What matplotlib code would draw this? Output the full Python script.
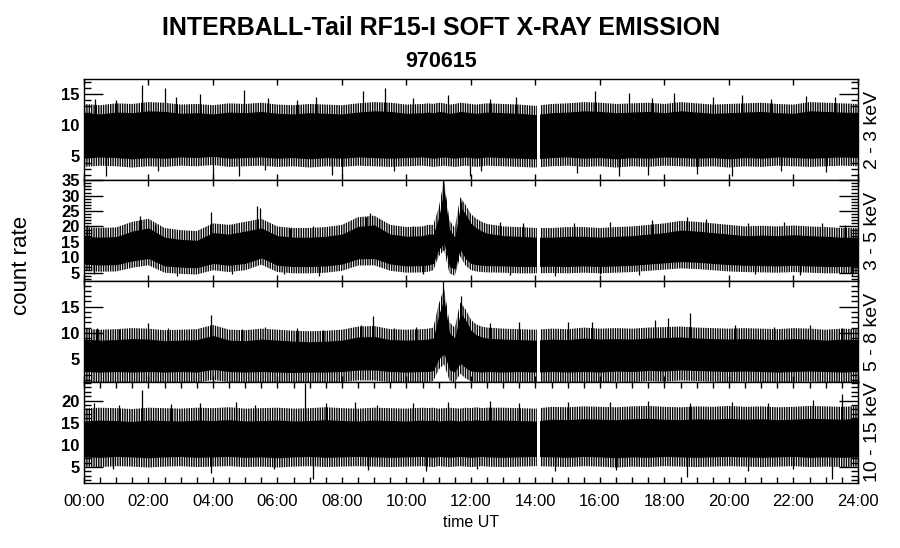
import numpy as np
import matplotlib
matplotlib.use("Agg")
import matplotlib.pyplot as plt
from matplotlib.ticker import MultipleLocator, FuncFormatter

plt.rcParams["font.family"] = ["Liberation Sans", "DejaVu Sans"]
plt.rcParams["hatch.linewidth"] = 1.0

# time grid (minutes UT), finer around the 11:00-12:00 flares
TIME_MIN = list(range(0, 631, 30)) + list(range(640, 760, 10)) + list(range(780, 1441, 30))

BANDS = ["2 - 3 keV", "3 - 5 keV", "5 - 8 keV", "10 - 15 keV"]
DATA_GAP = (14.05, 14.15)  # hours, telemetry gap

# 2-3 keV: solid core of the count-rate band
P1_HI = [12.0, 11.8, 12.1, 12.0, 12.3, 12.2, 11.9, 12.0, 11.8, 12.1, 12.0, 12.2, 11.9, 11.8, 12.0, 11.9, 11.8, 12.1, 12.3, 12.2, 11.9, 12.0,
         12.1, 12.0, 12.2, 12.1, 11.9, 12.0, 12.2, 12.1, 12.0, 11.9, 12.0, 12.1,
         12.0, 11.9, 11.7, 12.0, 12.1, 12.3, 12.2, 12.0, 12.1, 12.2, 12.0, 12.3, 12.1, 11.9, 12.0, 12.1, 12.2, 12.0, 11.9, 12.3, 12.2, 12.1, 12.0]
P1_LO = [4.7, 4.9, 4.8, 4.6, 4.8, 4.7, 4.9, 4.8, 5.0, 4.7, 4.8, 4.9, 4.7, 4.8, 4.6, 4.8, 4.7, 4.9, 4.8, 4.7, 4.8, 4.9,
         4.8, 4.7, 4.8, 4.9, 4.8, 4.7, 4.8, 4.9, 4.8, 4.7, 4.8, 4.9,
         4.8, 4.7, 4.6, 4.8, 4.9, 4.7, 4.8, 4.6, 4.8, 4.7, 4.9, 4.8, 4.7, 4.8, 4.6, 4.8, 4.7, 4.9, 4.8, 4.7, 4.8, 4.9, 4.8]
P1_SPIKE_T = [0.35, 1.0, 1.8, 2.5, 2.85, 3.6, 4.95, 5.7, 6.6, 7.2, 8.66, 9.33, 10.2, 11.3, 12.6, 13.4, 15.85, 16.9, 17.6, 18.3, 19.5, 20.4, 21.3, 22.4, 23.3]
P1_SPIKE_V = [14.2, 14.0, 16.5, 16.0, 14.5, 15.0, 15.6, 14.3, 14.0, 14.5, 15.5, 16.0, 14.3, 14.8, 14.2, 14.5, 15.5, 15.2, 14.4, 15.2, 14.5, 14.8, 14.2, 14.6, 14.5]
P1_DIP_T = [0.67, 2.3, 4.0, 4.8, 5.6, 7.7, 8.0, 9.6, 11.97, 12.3, 15.3, 16.6, 17.5, 19.0, 20.1, 21.6, 23.0]
P1_DIP_V = [1.8, 2.6, 1.2, 1.9, 2.8, 2.0, 1.9, 2.6, 1.9, 2.7, 2.3, 1.9, 2.0, 2.2, 1.9, 2.7, 2.5]

# 3-5 keV
P2_HI = [16.8, 16.5, 16.7, 18.5, 19.5, 16.5, 15.8, 15.5, 18.0, 17.5, 18.5, 19.5, 17.0, 16.5, 16.5, 16.8, 17.5, 20.0, 20.5, 17.5, 16.8, 17.0,
         17.5, 17.5, 23.0, 32.0, 19.0, 16.5, 26.5, 24.0, 21.0, 19.5, 18.5, 17.8,
         17.0, 16.8, 16.5, 16.5, 16.8, 16.8, 16.5, 16.8, 17.0, 17.5, 18.0, 18.8, 18.5, 18.0, 17.5, 17.0, 17.2, 17.0, 17.3, 17.0, 16.8, 16.5, 16.5]
P2_LO = [7.8, 7.5, 7.6, 8.8, 9.6, 7.2, 6.8, 6.6, 8.0, 7.4, 8.0, 9.8, 7.4, 7.0, 7.0, 7.2, 7.8, 9.5, 9.6, 7.8, 7.2, 7.3,
         7.5, 8.0, 12.5, 14.5, 7.0, 6.2, 12.5, 9.5, 8.0, 7.6, 7.4, 7.3,
         7.2, 7.0, 7.0, 7.1, 7.0, 7.2, 7.0, 7.2, 7.4, 7.8, 8.2, 8.6, 8.4, 8.0, 7.6, 7.4, 7.3, 7.2, 7.4, 7.2, 7.0, 7.0, 7.1]
P2_SPIKE_T = [0.1, 0.6, 1.75, 2.2, 3.93, 4.6, 5.35, 5.45, 6.4, 7.1, 8.75, 8.87, 9.15, 10.2, 11.13, 11.68, 12.9, 13.6, 15.2, 16.3, 17.6, 18.7, 19.3, 20.6, 21.7, 22.9, 23.6]
P2_SPIKE_V = [20.5, 19.8, 23.5, 20.5, 24.8, 20.5, 26.5, 26.0, 19.5, 20.0, 23.0, 24.5, 22.5, 20.0, 35.5, 28.0, 21.5, 21.0, 21.0, 21.5, 22.0, 23.0, 22.5, 21.0, 21.5, 21.0, 20.5]
P2_DIP_T = [0.3, 2.9, 4.6, 6.2, 7.3, 10.5, 13.2, 14.6, 16.0, 17.2, 20.8, 22.2, 23.8]
P2_DIP_V = [4.5, 3.8, 4.5, 4.5, 4.0, 4.5, 4.2, 3.8, 4.6, 4.3, 4.5, 4.4, 3.9]

# 5-8 keV
P3_HI = [8.8, 8.6, 8.7, 8.9, 8.8, 8.5, 8.6, 8.7, 9.5, 8.6, 8.5, 8.8, 8.6, 8.4, 8.3, 8.4, 8.6, 9.2, 9.3, 8.7, 8.6, 8.7,
         8.8, 9.0, 13.5, 16.5, 10.0, 9.0, 13.8, 12.5, 10.5, 9.6, 9.2, 9.0,
         8.8, 8.7, 8.6, 8.8, 8.7, 9.0, 8.8, 8.9, 8.8, 9.0, 9.1, 9.2, 9.0, 8.9, 8.8, 8.9, 8.8, 8.7, 8.9, 8.8, 8.6, 8.8, 8.7]
P3_LO = [2.6, 2.5, 2.6, 2.5, 2.6, 2.5, 2.6, 2.5, 3.0, 2.6, 2.5, 2.6, 2.5, 2.4, 2.5, 2.5, 2.6, 2.9, 2.9, 2.6, 2.5, 2.6,
         2.6, 2.8, 5.0, 6.0, 2.9, 2.5, 4.2, 3.3, 2.7, 2.6, 2.5, 2.6,
         2.5, 2.6, 2.5, 2.6, 2.5, 2.6, 2.5, 2.7, 2.6, 2.8, 2.7, 2.9, 2.8, 2.7, 2.6, 2.7, 2.6, 2.5, 2.6, 2.7, 2.6, 2.5, 2.6]
P3_SPIKE_T = [0.4, 1.1, 2.0, 2.6, 3.93, 4.9, 5.6, 6.6, 7.4, 8.6, 8.95, 9.6, 10.3, 11.12, 11.7, 12.6, 13.5, 15.0, 15.75, 17.7, 18.1, 18.8, 20.2, 21.4, 22.5, 23.5]
P3_SPIKE_V = [11.0, 10.8, 11.8, 11.0, 13.5, 10.8, 11.2, 10.9, 10.6, 11.5, 13.2, 11.0, 11.2, 20.5, 17.0, 11.8, 12.0, 12.0, 12.0, 12.4, 12.8, 13.7, 11.5, 11.2, 11.5, 11.0]
P3_DIP_T = []
P3_DIP_V = []

# 10-15 keV
P4_HI = [15.4, 15.6, 15.5, 15.3, 15.6, 15.5, 15.4, 15.6, 15.5, 15.7, 15.4, 15.5, 15.6, 15.4, 15.5, 15.7, 15.5, 15.4, 15.6, 15.5, 15.4, 15.6,
         15.5, 15.6, 15.4, 15.5, 15.6, 15.5, 15.4, 15.6, 15.5, 15.7, 15.5, 15.6,
         15.6, 15.5, 15.4, 15.8, 15.7, 15.9, 15.8, 15.7, 15.9, 16.0, 15.8, 15.7, 15.9, 15.8, 16.0, 15.8, 15.9, 15.7, 15.8, 16.0, 15.9, 15.8, 16.0]
P4_LO = [7.3, 7.2, 7.4, 7.3, 7.1, 7.3, 7.4, 7.2, 7.3, 7.4, 7.2, 7.3, 7.1, 7.3, 7.4, 7.2, 7.3, 7.4, 7.3, 7.2, 7.3, 7.4,
         7.3, 7.2, 7.4, 7.3, 7.2, 7.3, 7.4, 7.3, 7.2, 7.3, 7.4, 7.3,
         7.2, 7.3, 7.4, 7.3, 7.2, 7.4, 7.3, 7.1, 7.3, 7.2, 7.4, 7.3, 7.2, 7.3, 7.4, 7.3, 7.2, 7.3, 7.4, 7.2, 7.3, 7.2, 7.3]
P4_SPIKE_T = [0.3, 1.1, 1.79, 2.7, 3.6, 4.7, 5.3, 6.85, 7.5, 8.4, 9.1, 10.2, 11.3, 12.6, 13.5, 15.0, 16.3, 17.5, 18.8, 20.1, 21.2, 22.6, 23.5]
P4_SPIKE_V = [19.5, 19.0, 22.5, 19.2, 19.5, 19.8, 19.0, 24.0, 19.5, 19.8, 19.0, 19.5, 19.8, 20.0, 19.5, 19.6, 19.8, 20.0, 19.4, 19.8, 19.5, 20.2, 21.4]
P4_DIP_T = [0.9, 3.93, 5.9, 7.1, 8.8, 10.6, 12.2, 14.6, 16.5, 18.7, 20.6, 22.0, 23.2]
P4_DIP_V = [4.5, 3.6, 4.6, 2.3, 4.4, 4.2, 4.5, 4.1, 4.4, 2.8, 4.2, 4.5, 2.3]

# spiky fringe above / below the solid core (counts)
FRINGE = [(1.4, 1.4), (3.0, 2.2), (2.0, 2.0), (2.8, 2.2)]
YLIMS = [(1.2, 17.4), (2.3, 35.05), (0.6, 19.9), (1.4, 24.2)]


def hour_fmt(x, pos):
    return "%02d:00" % int(round(x))


def main():
    t = np.array(TIME_MIN) / 60.0
    panels = [
        (P1_HI, P1_LO, P1_SPIKE_T, P1_SPIKE_V, P1_DIP_T, P1_DIP_V),
        (P2_HI, P2_LO, P2_SPIKE_T, P2_SPIKE_V, P2_DIP_T, P2_DIP_V),
        (P3_HI, P3_LO, P3_SPIKE_T, P3_SPIKE_V, P3_DIP_T, P3_DIP_V),
        (P4_HI, P4_LO, P4_SPIKE_T, P4_SPIKE_V, P4_DIP_T, P4_DIP_V),
    ]

    fig, axes = plt.subplots(4, 1, figsize=(9, 5.48), dpi=100, sharex=True)
    fig.subplots_adjust(left=0.0933, right=0.9533, top=0.8558, bottom=0.1186, hspace=0)

    for i, ax in enumerate(axes):
        hi, lo, st, sv, dt, dv = [np.array(a, dtype=float) for a in panels[i]]
        up, down = FRINGE[i]

        # spiky fringe as dense vertical hatch, solid core on top
        ax.fill_between(t, lo - down, hi + up, facecolor="none", edgecolor="black",
                        hatch="|" * 7, linewidth=0, zorder=1)
        ax.fill_between(t, lo, hi, color="black", linewidth=0, zorder=1.05)

        mid = np.median(hi + lo) / 2
        if len(st):
            ax.vlines(st, mid, sv, color="black", linewidth=0.9, zorder=1.1)
        if len(dt):
            ax.vlines(dt, dv, mid, color="black", linewidth=0.9, zorder=1.1)

        ax.axvspan(DATA_GAP[0], DATA_GAP[1], color="white", linewidth=0, zorder=1.2)

        ax.set_xlim(0, 24)
        ax.set_ylim(*YLIMS[i])
        ax.yaxis.set_major_locator(MultipleLocator(5))
        ax.yaxis.set_minor_locator(MultipleLocator(1))
        ax.xaxis.set_major_locator(MultipleLocator(1))

        ax.tick_params(axis="y", which="major", direction="in", length=14, width=1,
                       left=True, right=True, labelsize=12, pad=3)
        ax.tick_params(axis="y", which="minor", direction="in", length=5, width=1,
                       left=True, right=True)
        ax.tick_params(axis="x", which="major", direction="in", length=4, width=1,
                       top=True, bottom=True, labelbottom=False)
        for lab in ax.get_yticklabels():
            lab.set_fontweight("bold")
        for sp in ax.spines.values():
            sp.set_linewidth(1)

        ax.text(1.019, 0.5, BANDS[i], transform=ax.transAxes, rotation=90,
                ha="center", va="center", fontsize=14)

    bottom = axes[-1]
    bottom.xaxis.set_major_locator(MultipleLocator(2))
    bottom.xaxis.set_minor_locator(MultipleLocator(0.5))
    bottom.xaxis.set_major_formatter(FuncFormatter(hour_fmt))
    bottom.tick_params(axis="x", which="major", direction="in", length=4, width=1,
                       top=True, bottom=True, labelbottom=True, labelsize=12, pad=8)
    bottom.tick_params(axis="x", which="minor", direction="in", length=4, width=1,
                       top=True, bottom=True)
    bottom.set_xlabel("time UT", fontsize=11.5, labelpad=4)

    fig.text(0.49, 0.949, "INTERBALL-Tail RF15-I SOFT X-RAY EMISSION",
             ha="center", va="center", fontsize=18, fontweight="bold")
    fig.text(0.49, 0.887, "970615", ha="center", va="center", fontsize=15.5, fontweight="bold")
    fig.text(0.024, 0.516, "count rate", rotation=90, ha="center", va="center", fontsize=16)

    fig.savefig("out.png", dpi=100)
    plt.close(fig)


if __name__ == "__main__":
    main()
